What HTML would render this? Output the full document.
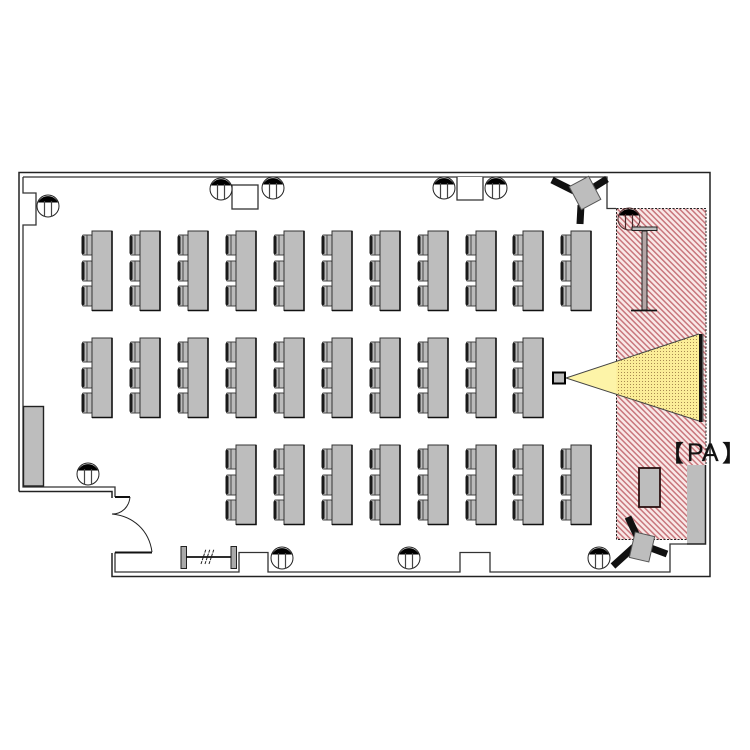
<!DOCTYPE html>
<html><head><meta charset="utf-8"><style>
html,body{margin:0;padding:0;background:#fff}
svg{display:block}
</style></head><body>
<svg width="750" height="750" viewBox="0 0 750 750" xmlns="http://www.w3.org/2000/svg">
<defs>
<pattern id="h" width="4" height="4" patternUnits="userSpaceOnUse" patternTransform="rotate(-45)">
<rect width="4" height="4" fill="#f9e8e7"/><rect width="1.500" height="4" fill="#c8767c"/>
</pattern>
<pattern id="d" width="3" height="3" patternUnits="userSpaceOnUse">
<rect width="3" height="3" fill="#fbed98"/><rect width="1" height="1" fill="#a88a50"/>
</pattern>
<g id="c"><rect x="1" y="0" width="9.500" height="20" rx="1" fill="#bbb" stroke="#444" stroke-width="1"/><rect x="0" y="1" width="3" height="18" rx="1" fill="#1a1a1a"/><line x1="5.500" y1="0" x2="5.500" y2="20" stroke="#444"/></g>
<g id="desk">
<use href="#c" x="-10.500" y="4"/><use href="#c" x="-10.500" y="30"/><use href="#c" x="-10.500" y="55"/>
<rect x="0" y="0" width="20" height="79.500" fill="#bdbdbd" stroke="#333" stroke-width="1"/>
<path d="M20 0V79.500H0" fill="none" stroke="#111" stroke-width="1.600"/>
</g>
<g id="o">
<circle r="11" fill="#fff" stroke="#222" stroke-width="1"/>
<path d="M-10-3.500A11 11 0 0 1 10-3.500Z" fill="#000"/>
<path d="M-3.500-5V10.500M3.500-5V10.500" stroke="#444" stroke-width="1.200" fill="none"/>
</g>
</defs>
<rect width="750" height="750" fill="#fff"/>

<!-- stage -->
<path d="M616.500 208.500H706V544H687V539.500H616.500Z" fill="url(#h)"/>
<path d="M616.500 208.500H706V465M616.500 208.500V539.500H687" fill="none" stroke="#222" stroke-width="1" stroke-dasharray="2 1.500"/>

<!-- walls -->
<path d="M19 491.500V172.500H710V576.500H112V553M19 491.500H112V498" fill="none" stroke="#222" stroke-width="1.500"/>
<path d="M23 177H607V208.500H616M23 177V193H36V225H23V487H115V497M115 552.500V572H239V552.500H268V572H460V552.500H490V572H670V544H687" fill="none" stroke="#333" stroke-width="1.300"/>
<path d="M457 177V200H483V177" fill="#fff" stroke="#333" stroke-width="1.300"/>
<rect x="232" y="185" width="26" height="24" fill="#fff" stroke="#333" stroke-width="1.300"/>

<!-- door -->
<path d="M115 552.500H152M115 497H130" stroke="#111" stroke-width="2" fill="none"/>
<path d="M130 497C129 507 122 514 112 514C133 516 149 530 152 552" fill="none" stroke="#222" stroke-width="1"/>

<!-- desks row 1 -->
<use href="#desk" x="92" y="231"/><use href="#desk" x="140" y="231"/><use href="#desk" x="188" y="231"/><use href="#desk" x="236" y="231"/><use href="#desk" x="284" y="231"/><use href="#desk" x="332" y="231"/><use href="#desk" x="380" y="231"/><use href="#desk" x="428" y="231"/><use href="#desk" x="476" y="231"/><use href="#desk" x="523" y="231"/><use href="#desk" x="571" y="231"/>
<!-- row 2 -->
<use href="#desk" x="92" y="338"/><use href="#desk" x="140" y="338"/><use href="#desk" x="188" y="338"/><use href="#desk" x="236" y="338"/><use href="#desk" x="284" y="338"/><use href="#desk" x="332" y="338"/><use href="#desk" x="380" y="338"/><use href="#desk" x="428" y="338"/><use href="#desk" x="476" y="338"/><use href="#desk" x="523" y="338"/>
<!-- row 3 -->
<use href="#desk" x="236" y="445"/><use href="#desk" x="284" y="445"/><use href="#desk" x="332" y="445"/><use href="#desk" x="380" y="445"/><use href="#desk" x="428" y="445"/><use href="#desk" x="476" y="445"/><use href="#desk" x="523" y="445"/><use href="#desk" x="571" y="445"/>

<!-- grey side table -->
<rect x="23.500" y="406.500" width="20" height="79.500" fill="#bdbdbd" stroke="#222" stroke-width="1.400"/>

<!-- outlets -->
<use href="#o" x="48" y="206"/><use href="#o" x="221" y="189"/><use href="#o" x="273" y="188"/><use href="#o" x="444" y="188"/><use href="#o" x="496" y="188"/><use href="#o" x="88" y="474"/><use href="#o" x="282" y="558"/><use href="#o" x="409" y="558"/><use href="#o" x="599" y="558"/>
<g transform="translate(629 219)"><circle r="11" fill="none" stroke="#4a2a2a" stroke-width="1"/><path d="M-10-3.500A11 11 0 0 1 10-3.500Z" fill="#000"/><path d="M-3.500-5V10.500M3.500-5V10.500" stroke="#4a2a2a" stroke-width="1.200" fill="none"/></g>

<!-- projection screen stand (stage) -->
<rect x="632" y="227" width="25" height="3.500" fill="#bdbdbd" stroke="#222" stroke-width="1"/>
<rect x="642" y="231" width="5" height="79" fill="#b5a5a5" stroke="#222" stroke-width="1"/>
<line x1="631" y1="310.500" x2="657" y2="310.500" stroke="#111" stroke-width="1.800"/>

<!-- screen stand (bottom wall) -->
<rect x="181" y="546.500" width="5.500" height="22" fill="#aaa" stroke="#222"/>
<rect x="231" y="546.500" width="5.500" height="22" fill="#aaa" stroke="#222"/>
<line x1="186" y1="557" x2="231" y2="557" stroke="#111" stroke-width="1.800"/>
<path d="M201 564L206 549M205 564L210 549M209 564L214 549" stroke="#222" stroke-width="1" stroke-dasharray="3 1" fill="none"/>

<!-- projector beam -->
<path d="M566 378L699 334V421Z" fill="#fdf4a8"/>
<path d="M616.500 361.500L699 334V421L616.500 395Z" fill="url(#d)"/>
<path d="M699 334L566 378L699 421" fill="none" stroke="#444" stroke-width="1"/>
<rect x="699" y="334" width="3" height="88" fill="#111"/>
<rect x="702" y="334" width="1.500" height="88" fill="#555"/>
<rect x="553" y="372.500" width="12" height="11" fill="#bdbdbd" stroke="#000" stroke-width="2"/>

<!-- stage tables -->
<rect x="639" y="468" width="21" height="39" fill="#bdbdbd" stroke="#2a1010" stroke-width="1.800"/>
<rect x="687" y="465" width="18.500" height="79" fill="#bdbdbd"/>
<path d="M705.500 465V544H687" fill="none" stroke="#222" stroke-width="1.500"/>

<!-- speakers -->
<g stroke="#111" stroke-width="7" fill="none">
<path d="M552 180L574 191M607 179L591 189M581 205L580 224"/>
<path d="M628 517L637 536M613 566L634 547M648 547L667 554"/>
</g>
<rect x="574" y="180" width="22" height="26" fill="#bdbdbd" stroke="#555" transform="rotate(-28 585 193)"/>
<rect x="632" y="534" width="20" height="26" fill="#bdbdbd" stroke="#555" transform="rotate(13 642 547)"/>

<text y="461" font-family="'Liberation Sans','Noto Sans CJK JP',sans-serif" fill="#111" stroke="#111" stroke-width="0.300"><tspan x="661" font-size="23">【</tspan><tspan x="687" font-size="25">PA</tspan><tspan x="722" font-size="23">】</tspan></text>
</svg>
</body></html>
